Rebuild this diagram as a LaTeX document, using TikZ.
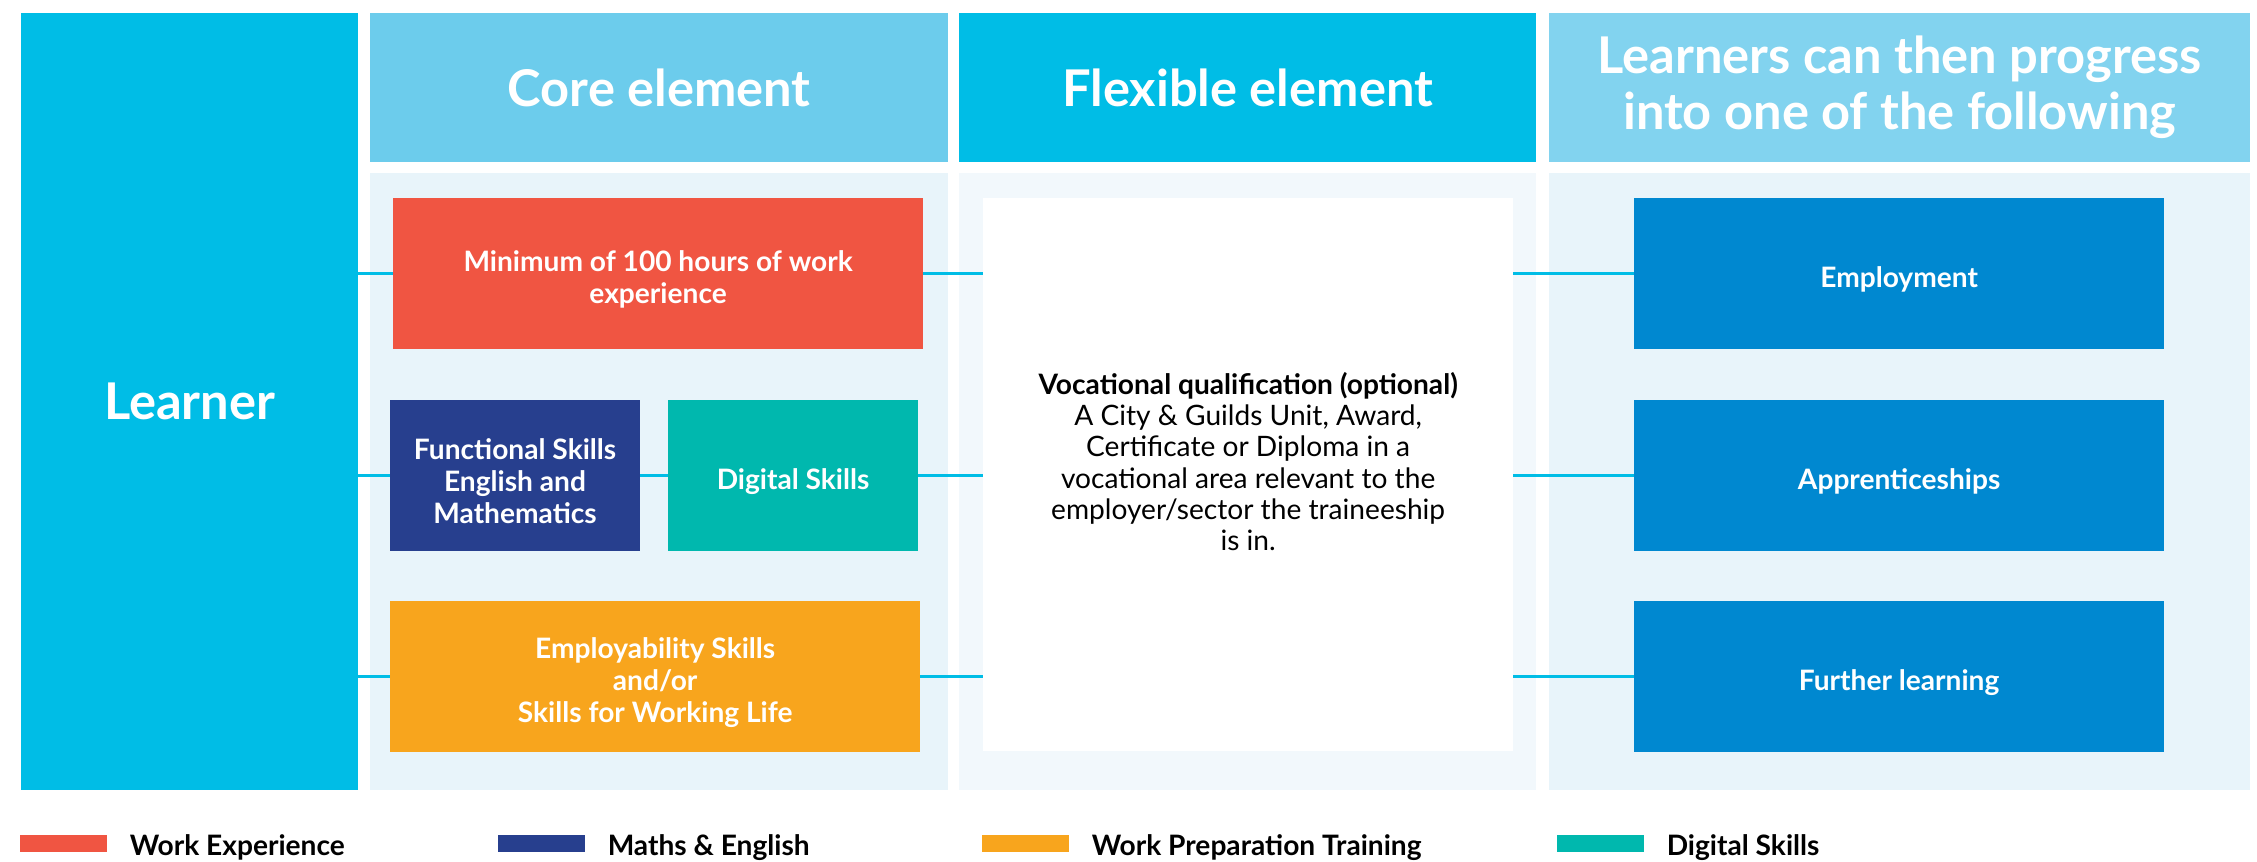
\documentclass[tikz,border=0pt]{standalone}
\usepackage{fontspec}
\setmainfont{Lato}
\usetikzlibrary{positioning,calc}

\definecolor{learnercyan}{HTML}{00BDE6}
\definecolor{corehead}{HTML}{6CCCEC}
\definecolor{proghead}{HTML}{82D3EF}
\definecolor{panelbg}{HTML}{E8F4FA}
\definecolor{flexbg}{HTML}{F2F8FC}
\definecolor{workred}{HTML}{F05542}
\definecolor{mathsnavy}{HTML}{273F8E}
\definecolor{digiteal}{HTML}{00B8AE}
\definecolor{prepamber}{HTML}{F8A51D}
\definecolor{outblue}{HTML}{0088D0}

\tikzset{
  panel/.style={anchor=north west, inner sep=0pt, outer sep=0pt, text=white,
    align=center, font=\bfseries\fontsize{14.4}{15.9}\selectfont},
  box/.style={anchor=north west, inner sep=0pt, outer sep=0pt,
    minimum width=5.3cm, minimum height=1.51cm},
  boxtext/.style={text=white, align=center, inner sep=0pt, yshift=-0.06cm,
    font=\bfseries\fontsize{8}{9.1}\selectfont},
  link/.style={draw=learnercyan, line width=0.85pt},
  swatch/.style={anchor=north west, inner sep=0pt, outer sep=0pt,
    minimum width=0.87cm, minimum height=0.17cm},
  key/.style={anchor=west, inner sep=0pt, yshift=-0.04cm,
    font=\bfseries\fontsize{8}{9}\selectfont}
}

\begin{document}
\begin{tikzpicture}[x=0.01cm, y=-0.01cm]

    \fill [white] (0,0) rectangle (2257,862);
    \useasboundingbox (0,0) rectangle (2257,862);

    % columns
    \node [panel, fill=learnercyan, minimum width=3.37cm, minimum height=7.77cm] (learner) at (21,13) {Learner};

    \node [panel, fill=corehead, minimum width=5.78cm, minimum height=1.49cm] (corehd) at (370,13) {Core element};
    \node [panel, fill=learnercyan, minimum width=5.77cm, minimum height=1.49cm] (flexhd) at (959,13) {Flexible element};
    \node [panel, fill=proghead, minimum width=7.01cm, minimum height=1.49cm] (proghd) at (1549,13) {Learners can then progress\\into one of the following};

    \node [panel, fill=panelbg, minimum width=5.78cm, minimum height=6.17cm] (corebody) at (370,173) {};
    \node [panel, fill=flexbg, minimum width=5.77cm, minimum height=6.17cm] (flexbody) at (959,173) {};
    \node [panel, fill=panelbg, minimum width=7.01cm, minimum height=6.17cm] (progbody) at (1549,173) {};

    % core element
    \node [box, fill=workred, label={[boxtext]center:Minimum of 100 hours of work\\experience}] (work) at (393,198) {};
    \node [box, fill=mathsnavy, minimum width=2.5cm, label={[boxtext]center:Functional Skills\\English and\\Mathematics}] (fsem) at (390,400) {};
    \node [box, fill=digiteal, minimum width=2.5cm, label={[boxtext]center:Digital Skills}] (digital) at (668,400) {};
    \node [box, fill=prepamber, label={[boxtext]center:Employability Skills\\and/or\\Skills for Working Life}] (empskills) at (390,601) {};

    % flexible element
    \node [box, fill=white, minimum height=5.53cm] (vq) at (983,198) {};
    \node [align=center, inner sep=0pt, font=\fontsize{8}{8.9}\selectfont, yshift=0.13cm] (vqtext) at (vq.center)
      {\textbf{Vocational qualification (optional)}\\A City \& Guilds Unit, Award,\\Certificate or Diploma in a\\vocational area relevant to the\\employer/sector the traineeship\\is in.};

    % progression
    \foreach \y/\name/\lab in {198/employ/Employment, 400/appr/Apprenticeships, 601/further/Further learning}
        \node [box, fill=outblue, label={[boxtext]center:\lab}] (\name) at (1634,\y) {};

    % connectors
    \foreach \name in {work, fsem, empskills}
        \draw [link] (learner.east |- \name.west) -- (\name.west);
    \draw [link] (fsem) -- (digital);
    \foreach \name in {work, digital, empskills}
        \draw [link] (\name.east) -- (\name.east -| vq.west);
    \foreach \name in {employ, appr, further}
        \draw [link] (vq.east |- \name.west) -- (\name.west);

    % key
    \foreach \x/\col/\lab/\name in {20/workred/Work Experience/kwork, 498/mathsnavy/Maths \& English/kmaths, 982/prepamber/Work Preparation Training/kprep, 1557/digiteal/Digital Skills/kdigi}
    {
        \node [swatch, fill=\col] (\name) at (\x,835) {};
        \node [key, right=0.22cm of \name] {\lab};
    }

\end{tikzpicture}
\end{document}
